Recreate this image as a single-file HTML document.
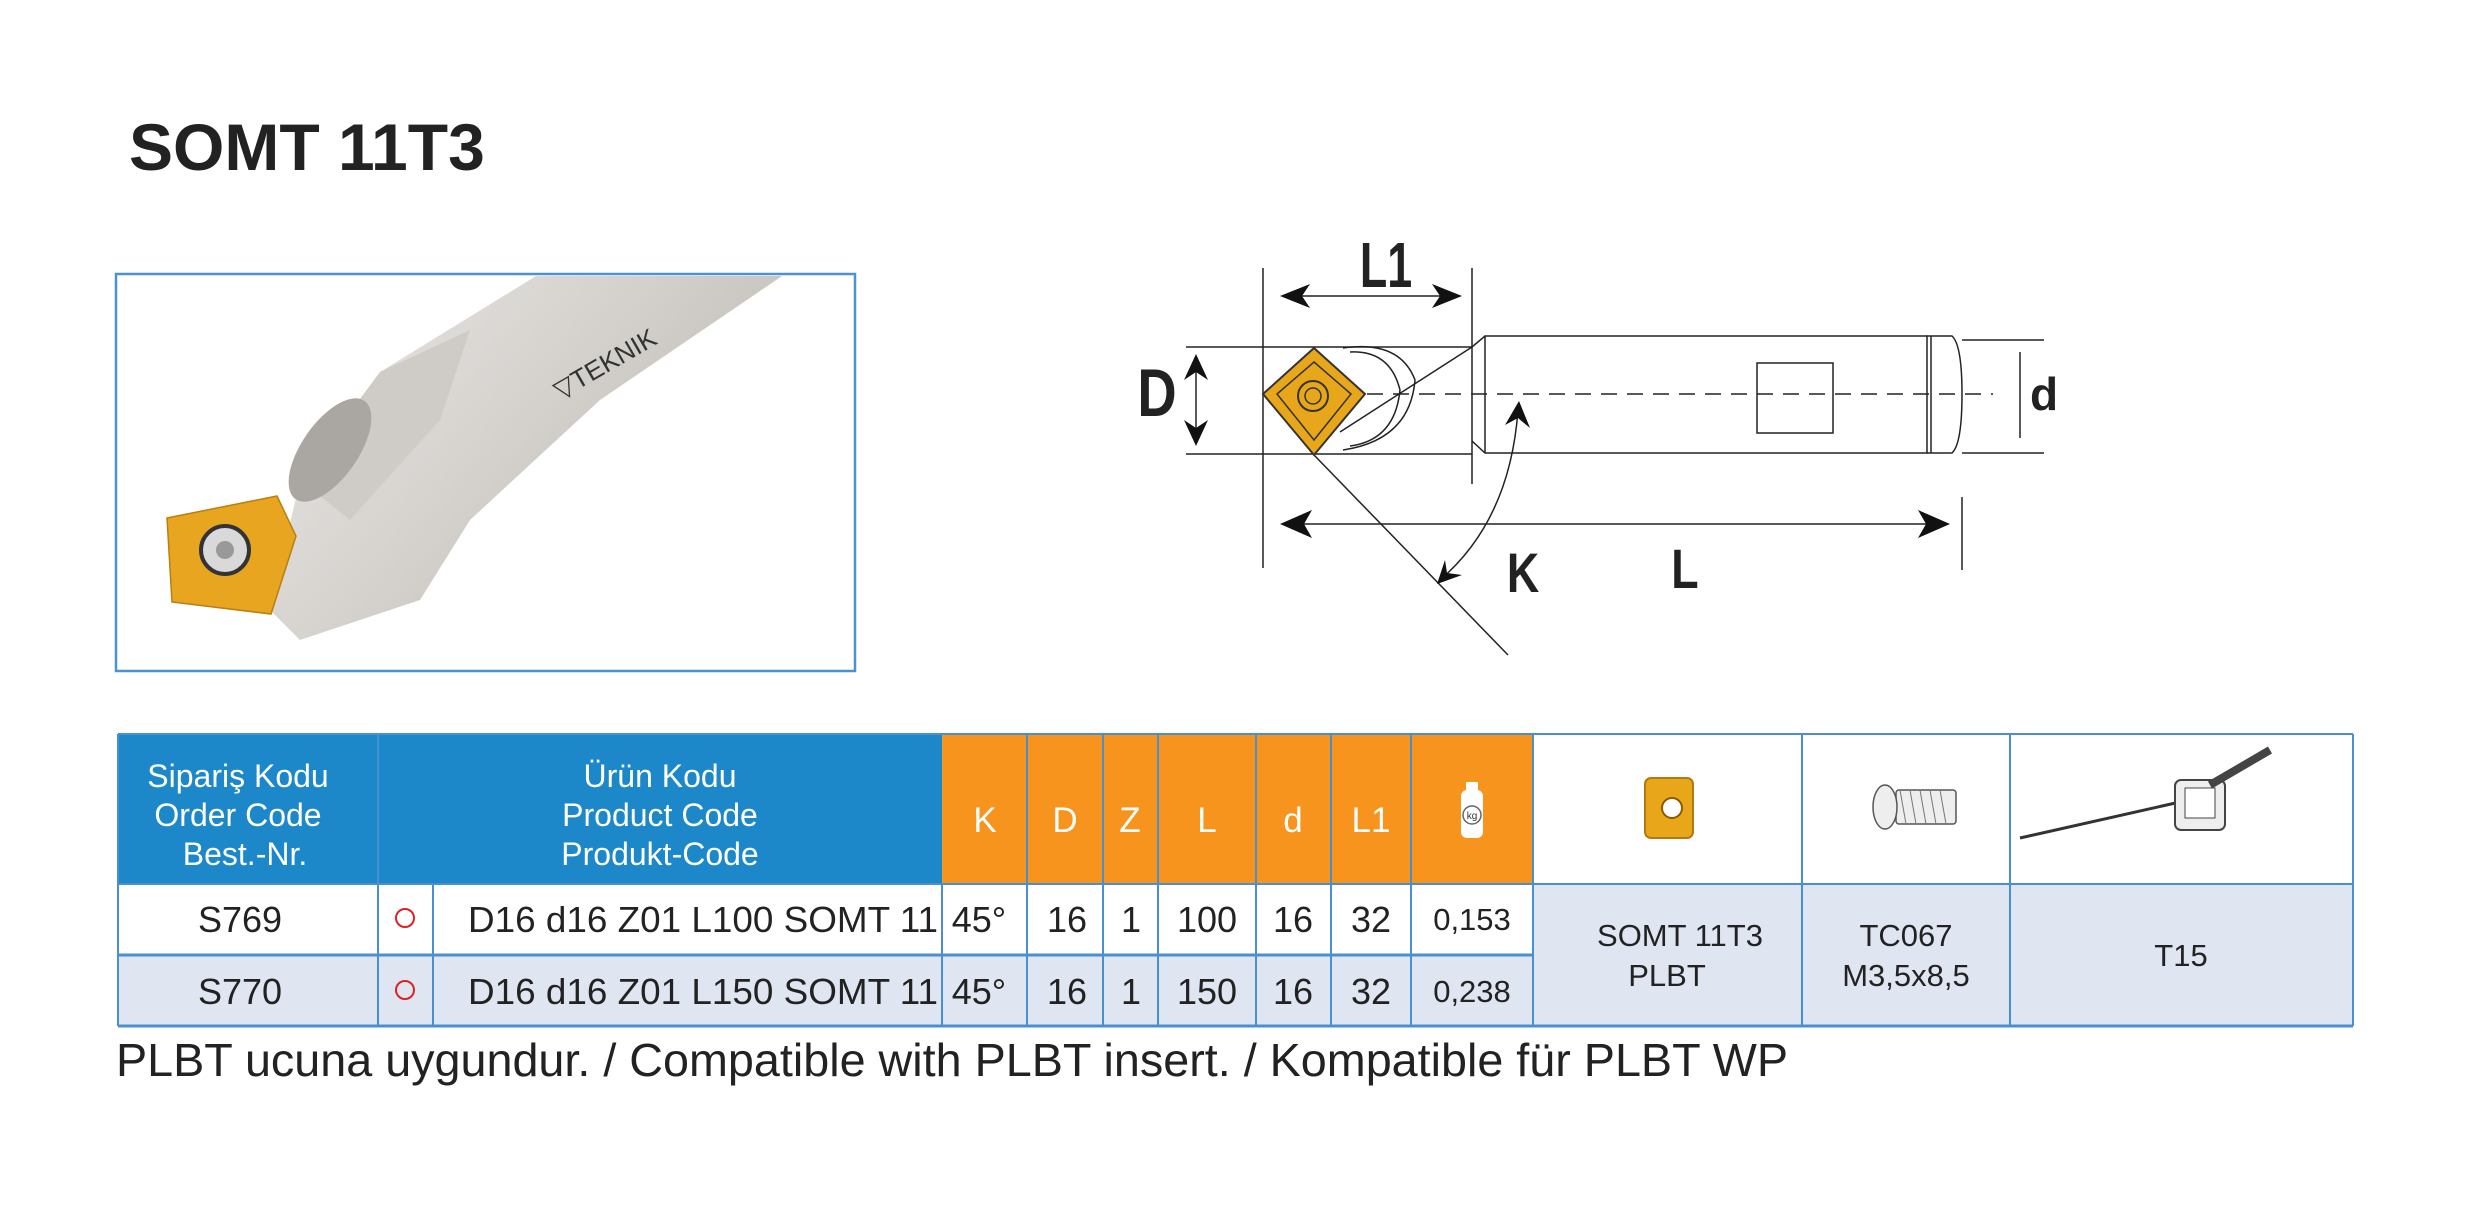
<!DOCTYPE html>
<html><head><meta charset="utf-8"><style>
html,body{margin:0;padding:0;background:#fff;}
svg{display:block;}
text{font-family:"Liberation Sans",sans-serif;}
</style></head><body>
<svg width="2470" height="1210" viewBox="0 0 2470 1210" xmlns="http://www.w3.org/2000/svg">
<defs>
<linearGradient id="sh" x1="0" y1="0" x2="1" y2="0.6">
<stop offset="0" stop-color="#e9e7e4"/><stop offset="0.5" stop-color="#d6d3cf"/><stop offset="1" stop-color="#bdb9b4"/>
</linearGradient>
</defs>
<rect width="2470" height="1210" fill="#fff"/>
<text x="129" y="170" font-size="66" font-weight="bold" fill="#222">SOMT 11T3</text>

<!-- photo box -->
<rect x="116" y="274" width="739" height="397" fill="#fff" stroke="#4a92d4" stroke-width="2.5"/>
<g>
<polygon points="536,276 782,276 600,400 470,520 420,600 300,640 270,610 300,480 380,372" fill="url(#sh)"/>
<polygon points="380,372 470,330 440,420 350,520 300,480" fill="#cfcbc6"/>
<ellipse cx="330" cy="450" rx="28" ry="60" transform="rotate(35 330 450)" fill="#aaa6a1"/>
<polygon points="167,518 277,496 296,536 271,614 172,602" fill="#e8a520" stroke="#b97f10" stroke-width="1.5"/>
<circle cx="225" cy="550" r="24" fill="#d9d9d9" stroke="#333" stroke-width="4"/>
<circle cx="225" cy="550" r="9" fill="#999"/>
<text x="560" y="400" font-size="26" fill="#333" transform="rotate(-30 560 400)">▽TEKNIK</text>
</g>

<!-- technical drawing -->
<g stroke="#222" fill="none" stroke-width="1.5">
<line x1="1263" y1="268" x2="1263" y2="568"/>
<line x1="1472" y1="268" x2="1472" y2="484"/>
<line x1="1962" y1="497" x2="1962" y2="570"/>
<line x1="1186" y1="347" x2="1472" y2="347"/>
<line x1="1186" y1="454" x2="1472" y2="454"/>
<polyline points="1472,347 1485,336 1927,336 1927,453 1485,453 1472,441"/>
<line x1="1485" y1="336" x2="1485" y2="453"/>
<path d="M1927,336 L1952,336 Q1962,345 1962,394 Q1962,444 1952,453 L1927,453"/>
<line x1="1931" y1="336" x2="1931" y2="453"/>
<line x1="1962" y1="340" x2="2044" y2="340"/>
<line x1="1962" y1="453" x2="2044" y2="453"/>
<line x1="2020" y1="352" x2="2020" y2="438"/>
<rect x="1757" y="363" width="76" height="70"/>
<line x1="1263" y1="394" x2="1993" y2="394" stroke-dasharray="16,10"/>
<path d="M1343,348 Q1400,340 1415,380 Q1410,440 1343,450"/>
<path d="M1350,352 Q1390,350 1400,390 Q1395,440 1350,446"/>
<line x1="1340" y1="432" x2="1472" y2="347"/>
<line x1="1314" y1="455" x2="1508" y2="655"/>
<path d="M1518,410 Q1510,520 1440,580"/>
<line x1="1285" y1="296" x2="1460" y2="296"/>
<line x1="1285" y1="524" x2="1948" y2="524"/>
<line x1="1196" y1="358" x2="1196" y2="442"/>
</g>
<g fill="#111">
<polygon points="1280,296 1310,284 1302,296 1310,308"/>
<polygon points="1462,296 1432,284 1440,296 1432,308"/>
<polygon points="1280,524 1312,510 1304,524 1312,538"/>
<polygon points="1950,524 1918,510 1926,524 1918,538"/>
<polygon points="1196,354 1184,380 1196,372 1208,380"/>
<polygon points="1196,446 1184,420 1196,428 1208,420"/>
<polygon points="1519,401 1505,425 1518,418 1530,428"/>
<polygon points="1437,584 1445,560 1447,573 1462,575"/>
</g>
<polygon points="1314,348 1365,394 1314,455 1263,394" fill="#e8a61a" stroke="#333" stroke-width="2"/>
<polygon points="1314,362 1351,394 1314,440 1277,394" fill="none" stroke="#333" stroke-width="1.5"/>
<circle cx="1313" cy="396" r="15" fill="none" stroke="#333" stroke-width="2"/>
<circle cx="1313" cy="396" r="8" fill="none" stroke="#333" stroke-width="1.5"/>
<g font-weight="bold" fill="#222">
<text x="1386" y="287" font-size="64" text-anchor="middle" transform="translate(1386 0) scale(0.7 1) translate(-1386 0)">L1</text>
<text x="1157" y="416" font-size="68" text-anchor="middle" transform="translate(1157 0) scale(0.8 1) translate(-1157 0)">D</text>
<text x="2044" y="410" font-size="46" text-anchor="middle">d</text>
<text x="1523" y="592" font-size="56" text-anchor="middle" transform="translate(1523 0) scale(0.8 1) translate(-1523 0)">K</text>
<text x="1685" y="588" font-size="56" text-anchor="middle" transform="translate(1685 0) scale(0.8 1) translate(-1685 0)">L</text>
</g>

<!-- table -->
<rect x="118" y="734" width="824" height="150" fill="#1c88ca"/>
<rect x="942" y="734" width="591" height="150" fill="#f7941d"/>
<rect x="1533" y="734" width="820" height="150" fill="#fff"/>
<rect x="118" y="884" width="1415" height="71" fill="#fff"/>
<rect x="118" y="955" width="1415" height="71" fill="#dfe6f2"/>
<rect x="1533" y="884" width="820" height="142" fill="#dfe6f2"/>
<g stroke="#4a90d0" stroke-width="2">
<line x1="118" y1="734" x2="2353" y2="734"/>
<line x1="118" y1="884" x2="2353" y2="884"/>
<line x1="118" y1="955" x2="1533" y2="955" stroke-width="3"/>
<line x1="118" y1="1026" x2="2353" y2="1026" stroke-width="3"/>
<line x1="118" y1="734" x2="118" y2="1026"/>
<line x1="378" y1="734" x2="378" y2="1026"/>
<line x1="433" y1="884" x2="433" y2="1026"/>
<line x1="942" y1="884" x2="942" y2="1026"/>
<line x1="1027" y1="734" x2="1027" y2="1026"/>
<line x1="1103" y1="734" x2="1103" y2="1026"/>
<line x1="1158" y1="734" x2="1158" y2="1026"/>
<line x1="1256" y1="734" x2="1256" y2="1026"/>
<line x1="1331" y1="734" x2="1331" y2="1026"/>
<line x1="1411" y1="734" x2="1411" y2="1026"/>
<line x1="1533" y1="734" x2="1533" y2="1026"/>
<line x1="1802" y1="734" x2="1802" y2="1026"/>
<line x1="2010" y1="734" x2="2010" y2="1026"/>
<line x1="2353" y1="734" x2="2353" y2="1026"/>
</g>
<g fill="#fff" font-size="32" text-anchor="middle">
<text x="238" y="787">Sipariş Kodu</text>
<text x="238" y="826">Order Code</text>
<text x="245" y="865">Best.-Nr.</text>
<text x="660" y="787">Ürün Kodu</text>
<text x="660" y="826">Product Code</text>
<text x="660" y="865">Produkt-Code</text>
<g font-size="35">
<text x="985" y="832">K</text><text x="1065" y="832">D</text><text x="1130" y="832">Z</text>
<text x="1207" y="832">L</text><text x="1293" y="832">d</text><text x="1371" y="832">L1</text>
</g>
</g>
<rect x="1461" y="790" width="22" height="48" rx="6" fill="#fff"/>
<rect x="1466" y="782" width="12" height="10" fill="#fff"/>
<circle cx="1472" cy="815" r="9" fill="none" stroke="#666" stroke-width="1.5"/>
<text x="1472" y="819" font-size="10" text-anchor="middle" fill="#333">kg</text>
<g fill="#222" font-size="36" text-anchor="middle">
<text x="240" y="932">S769</text><text x="240" y="1004">S770</text>
<text x="468" y="932" text-anchor="start" textLength="470" lengthAdjust="spacingAndGlyphs">D16 d16 Z01 L100 SOMT 11</text>
<text x="468" y="1004" text-anchor="start" textLength="470" lengthAdjust="spacingAndGlyphs">D16 d16 Z01 L150 SOMT 11</text>
<text x="979" y="932">45°</text><text x="979" y="1004">45°</text>
<text x="1067" y="932">16</text><text x="1067" y="1004">16</text>
<text x="1131" y="932">1</text><text x="1131" y="1004">1</text>
<text x="1207" y="932">100</text><text x="1207" y="1004">150</text>
<text x="1293" y="932">16</text><text x="1293" y="1004">16</text>
<text x="1371" y="932">32</text><text x="1371" y="1004">32</text>
<text x="1472" y="930" font-size="31">0,153</text><text x="1472" y="1002" font-size="31">0,238</text>
<g font-size="31">
<text x="1680" y="946">SOMT 11T3</text><text x="1667" y="986">PLBT</text>
<text x="1906" y="946">TC067</text><text x="1906" y="986">M3,5x8,5</text>
<text x="2181" y="966">T15</text>
</g>
</g>
<circle cx="405" cy="918" r="9" fill="none" stroke="#d22" stroke-width="2"/>
<circle cx="405" cy="990" r="9" fill="none" stroke="#d22" stroke-width="2"/>
<!-- header icons -->
<rect x="1645" y="778" width="48" height="60" rx="6" fill="#e8a61a" stroke="#b07a10" stroke-width="2"/>
<circle cx="1672" cy="808" r="10" fill="#fff" stroke="#8a5a00" stroke-width="2"/>
<rect x="1896" y="790" width="60" height="34" rx="3" fill="#eee" stroke="#555" stroke-width="1.5"/>
<ellipse cx="1885" cy="807" rx="12" ry="22" fill="#eee" stroke="#555" stroke-width="1.5"/>
<path d="M1900,790 l6,34 M1910,790 l6,34 M1920,790 l6,34 M1930,790 l6,34 M1940,790 l6,34" stroke="#777"/>
<line x1="2020" y1="838" x2="2180" y2="802" stroke="#333" stroke-width="3"/>
<rect x="2175" y="780" width="50" height="50" rx="6" fill="#eee" stroke="#444" stroke-width="2"/>
<rect x="2185" y="788" width="30" height="30" fill="#fff" stroke="#444"/>
<line x1="2210" y1="785" x2="2270" y2="750" stroke="#444" stroke-width="8"/>

<text x="116" y="1076" font-size="46" fill="#222" textLength="1672" lengthAdjust="spacingAndGlyphs">PLBT ucuna uygundur. / Compatible with PLBT insert. / Kompatible für PLBT WP</text>
</svg>
</body></html>
